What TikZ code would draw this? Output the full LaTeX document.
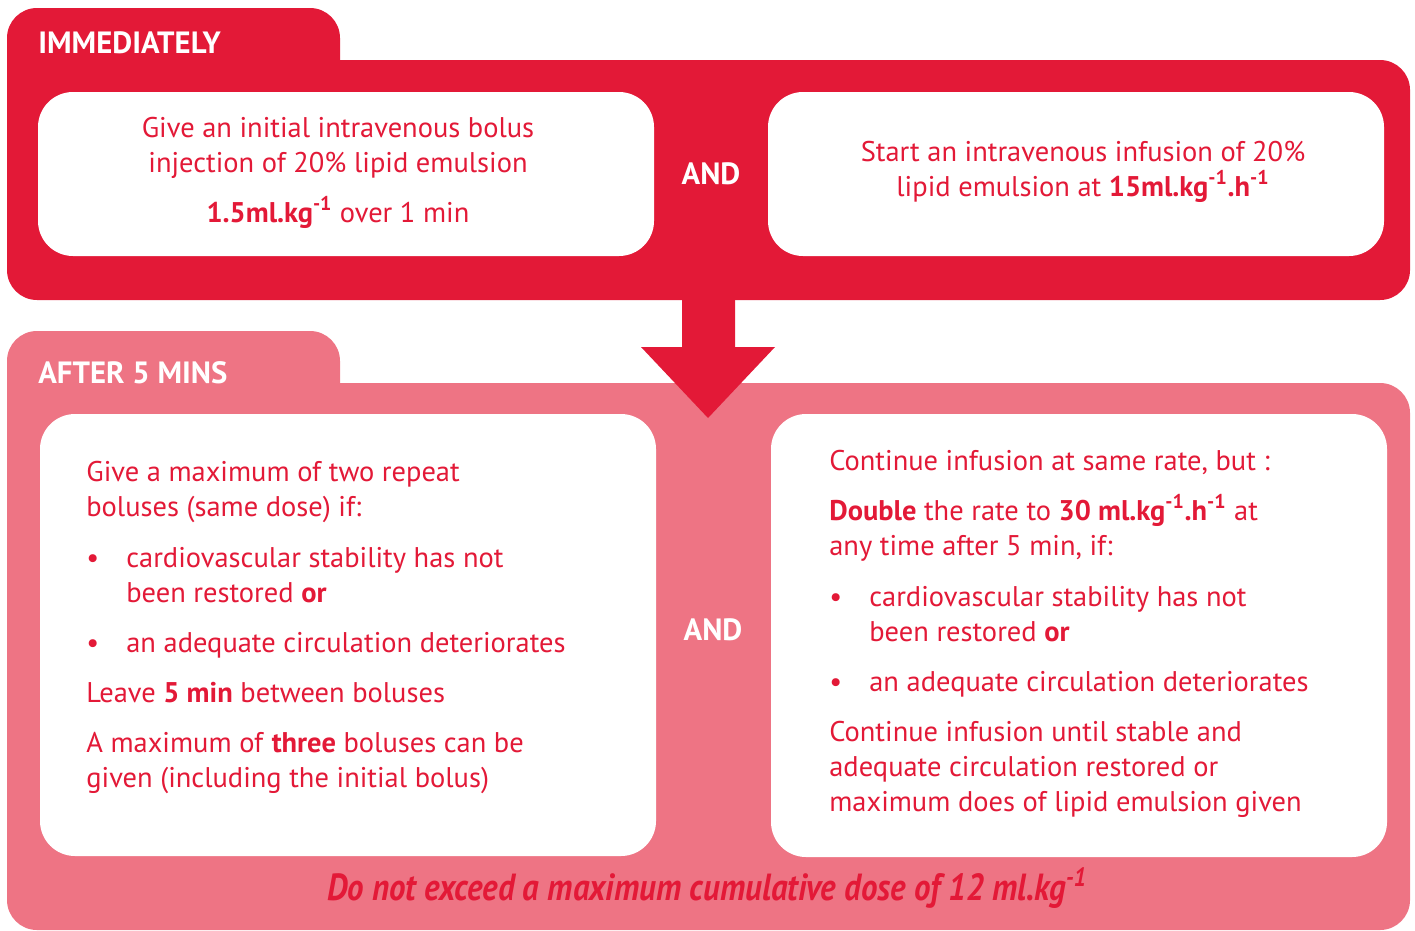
\documentclass[tikz,border=0pt]{standalone}
\usepackage{fontspec}
\setmainfont{PT Sans}
\usetikzlibrary{arrows.meta}

\definecolor{aagred}{HTML}{E31937}
\definecolor{aagpink}{HTML}{EE7484}

\begin{document}
\begin{tikzpicture}[x=0.02cm, y=-0.02cm, >=Stealth,
    panel/.style={rounded corners=0.6cm},
    whitebox/.style={fill=white, rounded corners=0.7cm},
    head/.style={font=\fontsize{17.5}{20}\selectfont\bfseries, text=white, inner sep=0pt},
    txt/.style={font=\fontsize{16.2}{20}\selectfont, text=aagred, inner sep=0pt},
]

    %% Background
    \useasboundingbox (0,0) rectangle (1415,930);

    % Immediately panel
    \fill[aagred, panel] (7,8) rectangle (340,120);
    \fill[aagred, panel] (7,60) rectangle (1410,300);

    % After 5 mins panel
    \fill[aagpink, panel] (7,331) rectangle (340,440);
    \fill[aagpink, panel] (7,383) rectangle (1410,930);

    % Arrow
    \fill[aagred] (682,295) -- (735,295) -- (735,347) -- (775,347)
        -- (708,418) -- (641,347) -- (682,347) -- cycle;

    % White boxes
    \fill[whitebox] (38,92) rectangle (654,256);
    \fill[whitebox] (768,92) rectangle (1384,256);
    \fill[whitebox] (40,414) rectangle (656,856);
    \fill[whitebox] (771,414) rectangle (1387,857);

    % Headings
    \node[head, anchor=base west] (imm) at (38,53) {IMMEDIATELY};
    \node[head, anchor=base west] (after) at (38,383) {AFTER 5 MINS};
    \node[head, anchor=base] (and1) at (711,184) {AND};
    \node[head, anchor=base] (and2) at (713,640) {AND};

    % Initial bolus
    \node[txt, anchor=base] (bolus1) at (338,137) {Give an initial intravenous bolus};
    \node[txt, anchor=base] (bolus2) at (338,172) {injection of 20\% lipid emulsion};
    \node[txt, anchor=base] (bolus3) at (338,222) {\textbf{1.5ml.kg\textsuperscript{-1}} over 1 min};

    % Infusion
    \node[txt, anchor=base] (inf1) at (1083,161) {Start an intravenous infusion of 20\%};
    \node[txt, anchor=base] (inf2) at (1083,196) {lipid emulsion at \textbf{15ml.kg\textsuperscript{-1}.h\textsuperscript{-1}}};

    % Repeat boluses
    \node[txt, anchor=base west] (rep1) at (86,481) {Give a maximum of two repeat};
    \node[txt, anchor=base west] (rep2) at (86,516) {boluses (same dose) if:};
    \node[txt, anchor=base west] (rb1) at (86,567) {\textbullet};
    \node[txt, anchor=base west] (rep3) at (126,567) {cardiovascular stability has not};
    \node[txt, anchor=base west] (rep4) at (126,602) {been restored \textbf{or}};
    \node[txt, anchor=base west] (rb2) at (86,652) {\textbullet};
    \node[txt, anchor=base west] (rep5) at (126,652) {an adequate circulation deteriorates};
    \node[txt, anchor=base west] (rep6) at (86,702) {Leave \textbf{5 min} between boluses};
    \node[txt, anchor=base west] (rep7) at (86,752) {A maximum of \textbf{three} boluses can be};
    \node[txt, anchor=base west] (rep8) at (86,787) {given (including the initial bolus)};

    % Continue infusion
    \node[txt, anchor=base west] (con1) at (829,470) {Continue infusion at same rate, but :};
    \node[txt, anchor=base west] (con2) at (829,520) {\textbf{Double} the rate to \textbf{30 ml.kg\textsuperscript{-1}.h\textsuperscript{-1}} at};
    \node[txt, anchor=base west] (con3) at (829,555) {any time after 5 min, if:};
    \node[txt, anchor=base west] (cb1) at (829,606) {\textbullet};
    \node[txt, anchor=base west] (con4) at (869,606) {cardiovascular stability has not};
    \node[txt, anchor=base west] (con5) at (869,641) {been restored \textbf{or}};
    \node[txt, anchor=base west] (cb2) at (829,691) {\textbullet};
    \node[txt, anchor=base west] (con6) at (869,691) {an adequate circulation deteriorates};
    \node[txt, anchor=base west] (con7) at (829,741) {Continue infusion until stable and};
    \node[txt, anchor=base west] (con8) at (829,776) {adequate circulation restored or};
    \node[txt, anchor=base west] (con9) at (829,811) {maximum does of lipid emulsion given};

    % Maximum dose
    \node[txt, anchor=base, font=\fontsize{21.5}{24}\selectfont\bfseries\itshape, xscale=0.87] (maxdose) at (707,900)
        {Do not exceed a maximum cumulative dose of 12 ml.kg\textsuperscript{-1}};

\end{tikzpicture}
\end{document}
